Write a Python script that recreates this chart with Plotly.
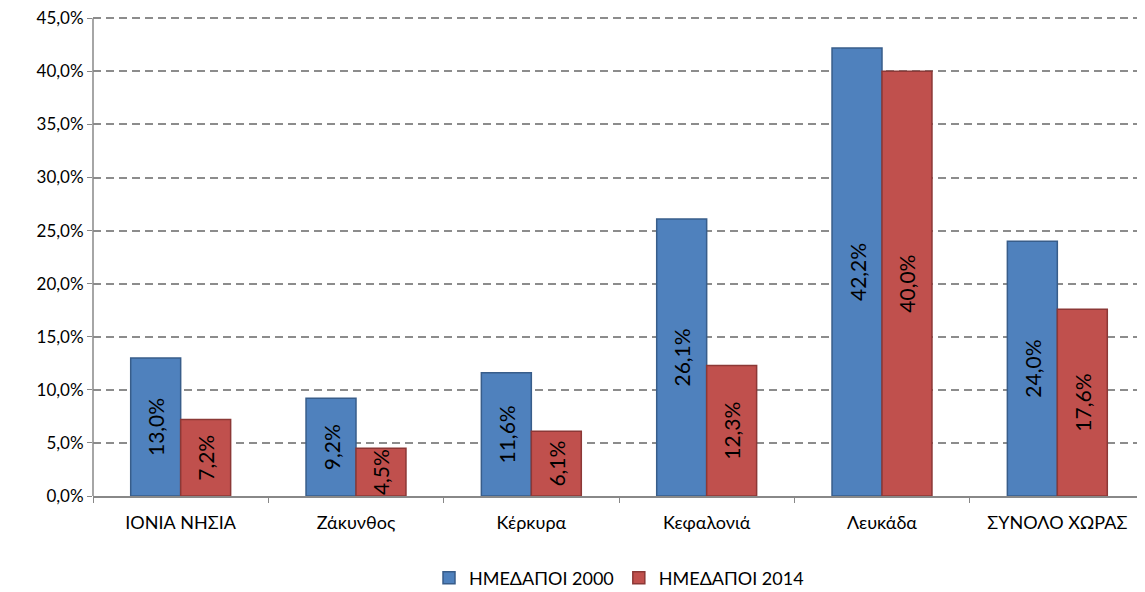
import plotly.graph_objects as go

categories = ["ΙΟΝΙΑ ΝΗΣΙΑ", "Ζάκυνθος", "Κέρκυρα", "Κεφαλονιά", "Λευκάδα", "ΣΥΝΟΛΟ ΧΩΡΑΣ"]
hmedapoi_2000 = [13.0, 9.2, 11.6, 26.1, 42.2, 24.0]
hmedapoi_2014 = [7.2, 4.5, 6.1, 12.3, 40.0, 17.6]
y_ticks = [0, 5, 10, 15, 20, 25, 30, 35, 40, 45]
y_ticktext = [f"{v:.1f}%".replace(".", ",") for v in y_ticks]

font_family = "Lato, 'Noto Sans', sans-serif"

fig = go.Figure()
fig.add_trace(go.Bar(
    x=categories, y=hmedapoi_2000, name="ΗΜΕΔΑΠΟΙ 2000",
    marker=dict(color="#4F81BD", line=dict(color="#385D8A", width=1.5)),
    texttemplate="%{y:.1f}%", textposition="inside", textangle=-90,
    insidetextanchor="middle", textfont=dict(size=21, color="black"),
))
fig.add_trace(go.Bar(
    x=categories, y=hmedapoi_2014, name="ΗΜΕΔΑΠΟΙ 2014",
    marker=dict(color="#C0504D", line=dict(color="#8C3836", width=1.5)),
    texttemplate="%{y:.1f}%", textposition="inside", textangle=-90,
    insidetextanchor="middle", textfont=dict(size=21, color="black"),
))

# page body has an 8px margin, so the figure is sized 8px smaller
fig.update_layout(
    width=1137, height=584,
    barmode="group", bargap=0.43, bargroupgap=0,
    separators=",.",
    plot_bgcolor="white", paper_bgcolor="white",
    font=dict(family=font_family, size=18, color="black"),
    margin=dict(l=85, r=0, t=6, b=96, autoexpand=False),
    uniformtext=dict(minsize=21, mode="show"),
    legend=dict(orientation="h", x=0.5, xanchor="center", y=-0.17, yanchor="middle",
                font=dict(size=18), traceorder="normal", itemwidth=30),
    showlegend=True,
)
fig.update_yaxes(
    range=[0, 45.4], tickvals=y_ticks, ticktext=y_ticktext, tickfont=dict(size=17),
    showgrid=True, gridcolor="#8c8c8c", griddash="8px,5px", gridwidth=1.5,
    showline=False, zeroline=False, ticklabeloverflow="allow",
    ticks="outside", ticklen=5, tickcolor="#888888",
)
# y-axis line only up to the 45% level, as in the original
fig.add_shape(type="line", xref="paper", yref="y", x0=0, x1=0, y0=0, y1=y_ticks[-1],
              line=dict(color="#888888", width=1.5))
fig.update_xaxes(
    showline=True, linecolor="#888888", linewidth=1.5,
    ticks="outside", ticklen=5, tickcolor="#888888", tickson="boundaries",
    ticklabelstandoff=10,
)

fig.write_html("out.html")
